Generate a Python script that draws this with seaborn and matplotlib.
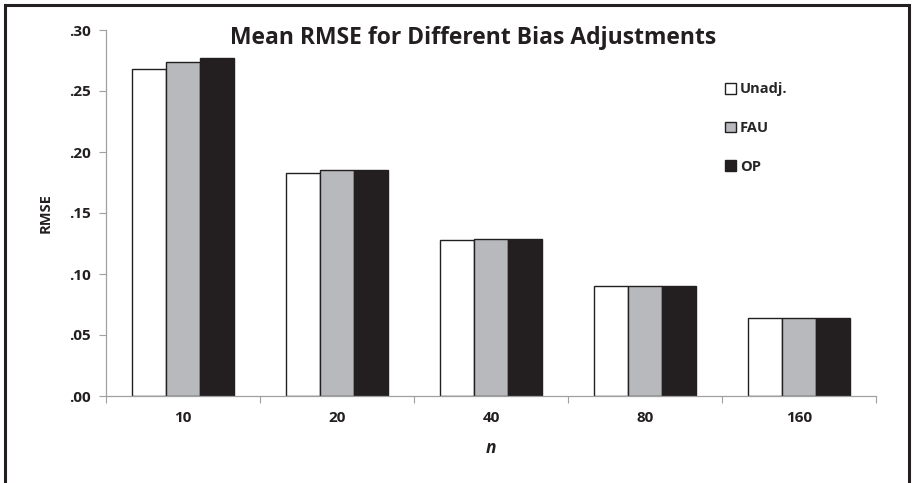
import matplotlib
matplotlib.use("Agg")
import matplotlib.pyplot as plt
from matplotlib.patches import Rectangle
import seaborn as sns
import pandas as pd

# Sample sizes and mean RMSE for each bias adjustment
sample_sizes = ["10", "20", "40", "80", "160"]
unadj = [0.268, 0.183, 0.128, 0.090, 0.064]
fau = [0.274, 0.185, 0.129, 0.090, 0.064]
op = [0.277, 0.185, 0.129, 0.090, 0.064]
methods = ["Unadj.", "FAU", "OP"]
y_ticks = [0.00, 0.05, 0.10, 0.15, 0.20, 0.25, 0.30]
y_tick_labels = [".00", ".05", ".10", ".15", ".20", ".25", ".30"]

df = pd.DataFrame({
    "n": sample_sizes * 3,
    "RMSE": unadj + fau + op,
    "method": [m for m in methods for _ in sample_sizes],
})

sns.set_theme(style="white")
plt.rcParams["font.family"] = ["Open Sans", "DejaVu Sans"]
plt.rcParams["font.weight"] = "bold"

W, H = 914, 483
fig = plt.figure(figsize=(W / 100, H / 100), dpi=100)
ax = fig.add_axes([106 / W, 1 - 396 / H, (876 - 106) / W, (396 - 30) / H])

ink = "#231f20"
palette = {"Unadj.": "#ffffff", "FAU": "#b8b9bc", "OP": ink}
sns.barplot(data=df, x="n", y="RMSE", hue="method", hue_order=methods,
            order=sample_sizes, palette=palette, width=0.665, gap=0,
            edgecolor=ink, linewidth=1.0, saturation=1, ax=ax,
            legend=True)

ax.set_xlim(-0.5, len(sample_sizes) - 0.5)
ax.set_ylim(0, 0.30)
ax.set_yticks(y_ticks)
ax.set_yticklabels(y_tick_labels, fontsize=11, fontweight="bold", color=ink)
ax.set_xticks(range(len(sample_sizes)))
ax.set_xticklabels(sample_sizes, fontsize=11, fontweight="bold", color=ink)
ax.set_xticks([i - 0.5 for i in range(len(sample_sizes) + 1)], minor=True)
ax.tick_params(axis="x", which="major", length=0, pad=11)
ax.tick_params(axis="x", which="minor", length=5, width=0.8, color="#a0a0a0",
               direction="out", bottom=True)
ax.tick_params(axis="y", which="major", length=5, width=0.8, color="#a0a0a0",
               direction="out", left=True, pad=6)

for side in ["top", "right"]:
    ax.spines[side].set_visible(False)
for side in ["left", "bottom"]:
    ax.spines[side].set_color("#a0a0a0")
    ax.spines[side].set_linewidth(0.9)

ax.set_xlabel("n", fontsize=12.5, fontweight="bold", fontstyle="italic",
              color=ink, labelpad=10)
ax.set_ylabel("RMSE", fontsize=10.5, fontweight="bold", color=ink, labelpad=12)

fig.text(473 / W, 1 - 38 / H, "Mean RMSE for Different Bias Adjustments",
         fontsize=16.5, fontweight="bold", color=ink, ha="center", va="center")

handles, labels = ax.get_legend_handles_labels()
ax.legend(handles, labels, loc="upper left", bbox_to_anchor=(718 / W, 1 - 75 / H),
          bbox_transform=fig.transFigure, frameon=False, fontsize=10.5,
          handlelength=0.75, handleheight=0.75, handletextpad=0.25,
          labelspacing=1.7, borderpad=0)

# Outer frame around the figure
fig.patches.append(Rectangle((5 / W, -0.02), 904 / W, 1 - 5 / H + 0.02,
                             transform=fig.transFigure, fill=False,
                             edgecolor=ink, linewidth=2.2))

fig.savefig("out.png", dpi=100)
